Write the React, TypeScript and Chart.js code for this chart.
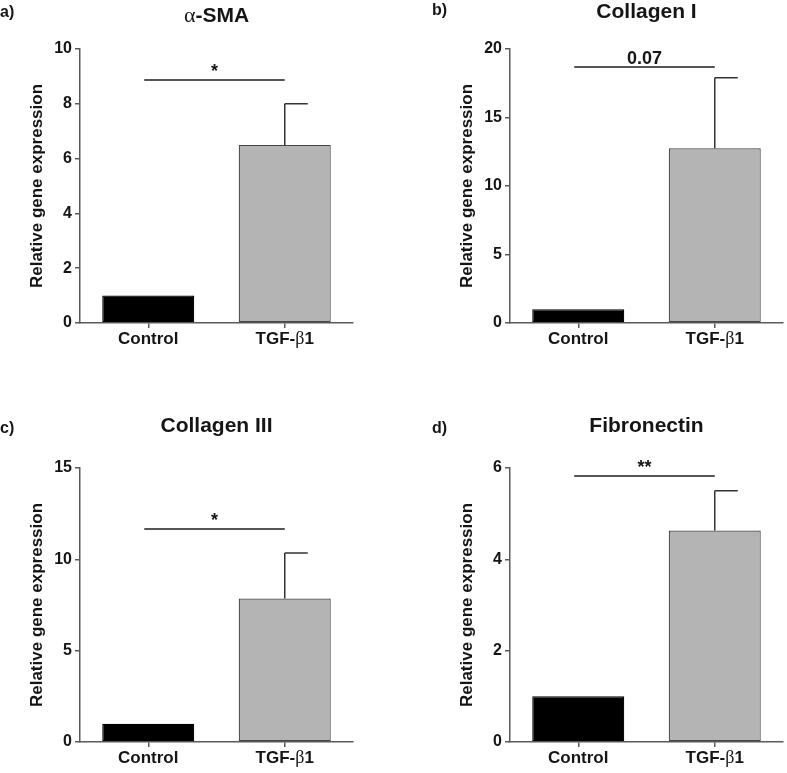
import React, { useEffect, useRef } from 'react';
import { Chart, registerables } from 'chart.js';

Chart.register(...registerables);

// ---------- data ----------
const categories = ['Control', 'TGF-β1'];
const panelTitles = ['α-SMA', 'Collagen I', 'Collagen III', 'Fibronectin'];
const panelLetters = ['a)', 'b)', 'c)', 'd)'];

const smaValues = [1, 6.5];
const smaErrors = [0, 1.5];
const col1Values = [1, 12.75];
const col1Errors = [0, 5.15];
const col3Values = [1, 7.85];
const col3Errors = [0, 2.5];
const fibValues = [1, 4.63];
const fibErrors = [0, 0.87];

const yMaxes = [10, 20, 15, 6];
const ySteps = [2, 5, 5, 2];
const sigLabels = ['*', '0.07', '*', '**'];
const sigLevels = [8.87, 18.7, 11.66, 5.82];

const yAxisTitle = 'Relative gene expression';

// ---------- styles / layout ----------
const FONT = '"Liberation Sans", Arial, sans-serif';
const GREEK_FONT = '"Liberation Serif", "DejaVu Serif", serif';
const TEXT = '#151515';
const AXIS = '#5a5a5a';
const barFills = ['#000000', '#b4b4b4'];
const barBorders = ['#000000', '#454545'];

const CANVAS_W = 357;
const rows = [
  { top: 0, height: 360, plotTop: 49, plotBottom: 323 },
  { top: 400, height: 373, plotTop: 68, plotBottom: 342 },
];
const panelLayout = [
  { left: 0, row: 0, titleBase: 21.5, letterX: 0, letterBase: 17 },
  { left: 430, row: 0, titleBase: 17.5, letterX: 2, letterBase: 15 },
  { left: 0, row: 1, titleBase: 31.5, letterX: 0, letterBase: 33 },
  { left: 430, row: 1, titleBase: 32, letterX: 2, letterBase: 33 },
];

function drawMixed(ctx: CanvasRenderingContext2D, text: string, x: number, y: number, size: number, align: 'center' | 'left') {
  const segs: { t: string; greek: boolean; w: number }[] = [];
  for (const ch of text) {
    const greek = /[\u0370-\u03ff]/.test(ch);
    const last = segs[segs.length - 1];
    if (last && last.greek === greek) last.t += ch;
    else segs.push({ t: ch, greek, w: 0 });
  }
  const fontOf = (s: { greek: boolean }) =>
    s.greek ? `normal ${Math.round(size * 1.05)}px ${GREEK_FONT}` : `bold ${size}px ${FONT}`;
  let total = 0;
  for (const s of segs) {
    ctx.font = fontOf(s);
    s.w = ctx.measureText(s.t).width;
    total += s.w;
  }
  let cx = align === 'center' ? x - total / 2 : x;
  ctx.textAlign = 'left';
  for (const s of segs) {
    ctx.font = fontOf(s);
    ctx.fillText(s.t, cx, y);
    cx += s.w;
  }
}

const annotPlugin = {
  id: 'annot',
  afterDraw(chart: any, _args: any, opts: any) {
    const { ctx, chartArea } = chart;
    const x = chart.scales.x;
    const y = chart.scales.y;
    const meta = chart.getDatasetMeta(0);
    ctx.save();
    // error bars (upper, half cap)
    ctx.strokeStyle = '#333333';
    ctx.lineWidth = 1.5;
    opts.errors.forEach((e: number, i: number) => {
      if (!e) return;
      const bar = meta.data[i];
      const xc = bar.x;
      const y0 = y.getPixelForValue(opts.values[i]);
      const y1 = y.getPixelForValue(opts.values[i] + e);
      ctx.beginPath();
      ctx.moveTo(xc, y0);
      ctx.lineTo(xc, y1);
      ctx.moveTo(xc, y1);
      ctx.lineTo(xc + bar.width / 4, y1);
      ctx.stroke();
    });
    // significance line
    const sy = Math.round(y.getPixelForValue(opts.sigLevel));
    const sx0 = x.getPixelForValue(0) - 4;
    const sx1 = x.getPixelForValue(1);
    ctx.strokeStyle = '#555555';
    ctx.lineWidth = 2;
    ctx.beginPath();
    ctx.moveTo(sx0, sy);
    ctx.lineTo(sx1, sy);
    ctx.stroke();
    ctx.fillStyle = TEXT;
    ctx.textBaseline = 'alphabetic';
    ctx.textAlign = 'center';
    ctx.font = `bold 18px ${FONT}`;
    ctx.fillText(opts.sigLabel, (sx0 + sx1) / 2, sy - 3);
    // x category labels
    categories.forEach((c, i) => {
      drawMixed(ctx, c, x.getPixelForValue(i), chartArea.bottom + 20.5, 17, 'center');
    });
    // title
    drawMixed(ctx, opts.title, (chartArea.left + chartArea.right) / 2, opts.titleBase, 21, 'center');
    // letter
    ctx.font = `bold 16px ${FONT}`;
    ctx.textAlign = 'left';
    ctx.fillText(opts.letter, opts.letterX, opts.letterBase);
    // y axis title
    ctx.save();
    ctx.translate(37, (chartArea.top + chartArea.bottom) / 2);
    ctx.rotate(-Math.PI / 2);
    ctx.textAlign = 'center';
    ctx.textBaseline = 'middle';
    ctx.font = `bold 17px ${FONT}`;
    ctx.fillText(yAxisTitle, 0, 0);
    ctx.restore();
    ctx.restore();
  },
};

type PanelProps = {
  index: number;
  values: number[];
  errors: number[];
};

function Panel({ index, values, errors }: PanelProps) {
  const ref = useRef<HTMLCanvasElement | null>(null);
  const lay = panelLayout[index];
  const row = rows[lay.row];
  useEffect(() => {
    if (!ref.current) return;
    const chart = new Chart(ref.current, {
      type: 'bar',
      data: {
        labels: categories,
        datasets: [
          {
            data: values,
            backgroundColor: barFills,
            borderColor: barBorders,
            borderWidth: 1.2,
            borderSkipped: false,
            barPercentage: 0.674,
            categoryPercentage: 1,
          },
        ],
      },
      options: {
        responsive: false,
        animation: false,
        events: [],
        layout: {
          padding: { top: row.plotTop, left: 0, right: CANVAS_W - 353, bottom: 0 },
        },
        plugins: {
          legend: { display: false },
          tooltip: { enabled: false },
          annot: {
            values,
            errors,
            sigLevel: sigLevels[index],
            sigLabel: sigLabels[index],
            title: panelTitles[index],
            titleBase: lay.titleBase,
            letter: panelLetters[index],
            letterX: lay.letterX,
            letterBase: lay.letterBase,
          },
        } as any,
        scales: {
          x: {
            offset: true,
            grid: {
              display: true,
              drawOnChartArea: false,
              offset: false,
              drawTicks: true,
              tickLength: 5,
              color: AXIS,
              lineWidth: 1.5,
            },
            border: { display: true, color: AXIS, width: 1.5 },
            ticks: { color: 'rgba(0,0,0,0)', font: { size: 17, family: FONT, weight: 'bold' } },
            afterFit: (s: any) => {
              s.height = row.height - row.plotBottom;
            },
          },
          y: {
            min: 0,
            max: yMaxes[index],
            ticks: {
              stepSize: ySteps[index],
              color: TEXT,
              padding: 3,
              font: { size: 16, family: FONT, weight: 'bold' },
            },
            grid: {
              display: true,
              drawOnChartArea: false,
              drawTicks: true,
              tickLength: 5,
              color: AXIS,
              lineWidth: 1.5,
            },
            border: { display: true, color: AXIS, width: 1.5 },
            afterFit: (s: any) => {
              s.width = 80;
            },
          },
        },
      },
      plugins: [annotPlugin],
    });
    return () => chart.destroy();
  }, [index, values, errors]);
  return (
    <canvas
      ref={ref}
      width={CANVAS_W}
      height={row.height}
      style={{ position: 'absolute', left: lay.left, top: row.top, width: CANVAS_W, height: row.height }}
    />
  );
}

export default function App() {
  useEffect(() => {
    document.body.style.margin = '0';
    document.body.style.background = '#ffffff';
  }, []);
  return (
    <div style={{ position: 'relative', width: 787, height: 773, background: '#ffffff', overflow: 'hidden' }}>
      <Panel index={0} values={smaValues} errors={smaErrors} />
      <Panel index={1} values={col1Values} errors={col1Errors} />
      <Panel index={2} values={col3Values} errors={col3Errors} />
      <Panel index={3} values={fibValues} errors={fibErrors} />
    </div>
  );
}
